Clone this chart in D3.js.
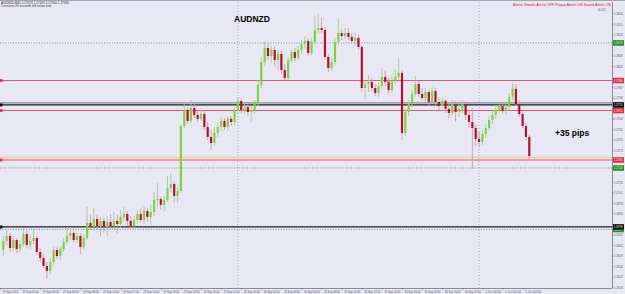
<!DOCTYPE html>
<html>
<head>
<meta charset="utf-8">
<script src="https://cdn.jsdelivr.net/npm/d3@7"></script>
<style>
  html, body { margin: 0; padding: 0; background: #e8e8f5; }
  svg { display: block; font-family: "Liberation Sans", Arial, sans-serif; }
</style>
</head>
<body>
<div id="chart"></div>
<script>
const symbol = "AUDNZD";
const period = "M30";

// OHLC per bar, first bar is bar 1
const firstBar = 1;
const candles = [
  [1.26625, 1.26730, 1.26580, 1.26693], [1.26693, 1.26775, 1.26663, 1.26730],
  [1.26730, 1.26753, 1.26610, 1.26640], [1.26640, 1.26730, 1.26618, 1.26700],
  [1.26700, 1.26715, 1.26603, 1.26633], [1.26633, 1.26700, 1.26610, 1.26670],
  [1.26670, 1.26790, 1.26648, 1.26745], [1.26745, 1.26768, 1.26640, 1.26663],
  [1.26663, 1.26745, 1.26633, 1.26693], [1.26693, 1.26783, 1.26670, 1.26715],
  [1.26715, 1.26730, 1.26588, 1.26610], [1.26610, 1.26640, 1.26535, 1.26565],
  [1.26565, 1.26595, 1.26490, 1.26505], [1.26505, 1.26535, 1.26408, 1.26468],
  [1.26468, 1.26565, 1.26445, 1.26535], [1.26535, 1.26648, 1.26505, 1.26625],
  [1.26625, 1.26648, 1.26558, 1.26580], [1.26580, 1.26655, 1.26550, 1.26633],
  [1.26633, 1.26715, 1.26610, 1.26685], [1.26685, 1.26798, 1.26663, 1.26730],
  [1.26730, 1.26798, 1.26700, 1.26753], [1.26753, 1.26775, 1.26678, 1.26700],
  [1.26700, 1.26753, 1.26678, 1.26730], [1.26730, 1.26753, 1.26595, 1.26648],
  [1.26648, 1.26745, 1.26625, 1.26715], [1.26715, 1.26948, 1.26700, 1.26828],
  [1.26828, 1.26888, 1.26775, 1.26798], [1.26798, 1.26940, 1.26768, 1.26858],
  [1.26858, 1.26888, 1.26775, 1.26805], [1.26805, 1.26873, 1.26730, 1.26843],
  [1.26843, 1.26865, 1.26753, 1.26798], [1.26798, 1.26880, 1.26730, 1.26835],
  [1.26835, 1.26895, 1.26783, 1.26805], [1.26805, 1.26910, 1.26783, 1.26843],
  [1.26843, 1.26888, 1.26753, 1.26820], [1.26820, 1.26925, 1.26790, 1.26873],
  [1.26873, 1.26948, 1.26835, 1.26895], [1.26895, 1.26918, 1.26805, 1.26843],
  [1.26843, 1.26880, 1.26775, 1.26805], [1.26805, 1.26880, 1.26783, 1.26850],
  [1.26850, 1.26925, 1.26820, 1.26895], [1.26895, 1.26933, 1.26828, 1.26850],
  [1.26850, 1.26955, 1.26820, 1.26918], [1.26918, 1.26940, 1.26835, 1.26873],
  [1.26873, 1.26963, 1.26813, 1.26910], [1.26910, 1.27060, 1.26880, 1.27000],
  [1.27000, 1.27128, 1.26948, 1.27008], [1.27008, 1.27023, 1.26925, 1.26963],
  [1.26963, 1.27030, 1.26918, 1.27000], [1.27000, 1.27180, 1.26985, 1.27090],
  [1.27090, 1.27188, 1.27060, 1.27120], [1.27120, 1.27143, 1.26978, 1.27030],
  [1.27030, 1.27090, 1.26978, 1.27068], [1.27068, 1.27570, 1.27053, 1.27555],
  [1.27555, 1.27728, 1.27540, 1.27675], [1.27675, 1.27698, 1.27570, 1.27593],
  [1.27593, 1.27750, 1.27578, 1.27690], [1.27690, 1.27720, 1.27615, 1.27638],
  [1.27638, 1.27668, 1.27585, 1.27608], [1.27608, 1.27675, 1.27593, 1.27645],
  [1.27645, 1.27668, 1.27525, 1.27548], [1.27548, 1.27585, 1.27450, 1.27473],
  [1.27473, 1.27525, 1.27375, 1.27428], [1.27428, 1.27548, 1.27405, 1.27503],
  [1.27503, 1.27585, 1.27473, 1.27548], [1.27548, 1.27623, 1.27518, 1.27593],
  [1.27593, 1.27615, 1.27525, 1.27548], [1.27548, 1.27630, 1.27518, 1.27608],
  [1.27608, 1.27630, 1.27555, 1.27585], [1.27585, 1.27698, 1.27563, 1.27668],
  [1.27668, 1.27773, 1.27645, 1.27743], [1.27743, 1.27765, 1.27653, 1.27675],
  [1.27675, 1.27720, 1.27645, 1.27698], [1.27698, 1.27720, 1.27630, 1.27660],
  [1.27660, 1.27705, 1.27585, 1.27675], [1.27675, 1.27750, 1.27645, 1.27728],
  [1.27728, 1.27900, 1.27705, 1.27863], [1.27863, 1.28065, 1.27840, 1.28035],
  [1.28035, 1.28185, 1.28005, 1.28140], [1.28140, 1.28170, 1.28050, 1.28080],
  [1.28080, 1.28155, 1.28035, 1.28125], [1.28125, 1.28148, 1.28005, 1.28050],
  [1.28050, 1.28125, 1.27975, 1.28095], [1.28095, 1.28125, 1.27945, 1.27975],
  [1.27975, 1.28020, 1.27893, 1.27915], [1.27915, 1.28073, 1.27900, 1.28050],
  [1.28050, 1.28133, 1.28028, 1.28110], [1.28110, 1.28140, 1.28035, 1.28065],
  [1.28065, 1.28155, 1.28050, 1.28125], [1.28125, 1.28200, 1.28103, 1.28170],
  [1.28170, 1.28230, 1.28133, 1.28193], [1.28193, 1.28215, 1.28080, 1.28103],
  [1.28103, 1.28215, 1.28088, 1.28185], [1.28185, 1.28380, 1.28163, 1.28275],
  [1.28275, 1.28395, 1.28253, 1.28290], [1.28290, 1.28365, 1.28253, 1.28275],
  [1.28275, 1.28298, 1.28058, 1.28073], [1.28073, 1.28095, 1.27960, 1.27990],
  [1.27990, 1.28065, 1.27968, 1.28035], [1.28035, 1.28215, 1.28013, 1.28185],
  [1.28185, 1.28358, 1.28163, 1.28253], [1.28253, 1.28283, 1.28200, 1.28230],
  [1.28230, 1.28290, 1.28208, 1.28253], [1.28253, 1.28290, 1.28200, 1.28223],
  [1.28223, 1.28253, 1.28170, 1.28193], [1.28193, 1.28253, 1.28155, 1.28215],
  [1.28215, 1.28238, 1.28125, 1.28148], [1.28148, 1.28163, 1.27810, 1.27840],
  [1.27840, 1.27900, 1.27750, 1.27870], [1.27870, 1.27938, 1.27810, 1.27885],
  [1.27885, 1.27915, 1.27810, 1.27840], [1.27840, 1.27870, 1.27780, 1.27803],
  [1.27803, 1.27885, 1.27773, 1.27855], [1.27855, 1.27990, 1.27833, 1.27923],
  [1.27923, 1.27968, 1.27855, 1.27885], [1.27885, 1.27915, 1.27795, 1.27825],
  [1.27825, 1.27930, 1.27803, 1.27900], [1.27900, 1.27975, 1.27870, 1.27923],
  [1.27923, 1.28065, 1.27900, 1.27953], [1.27953, 1.27975, 1.27450, 1.27503],
  [1.27503, 1.27690, 1.27480, 1.27660], [1.27660, 1.27750, 1.27630, 1.27720],
  [1.27720, 1.27825, 1.27698, 1.27795], [1.27795, 1.27930, 1.27773, 1.27870],
  [1.27870, 1.27893, 1.27773, 1.27795], [1.27795, 1.27840, 1.27743, 1.27765],
  [1.27765, 1.27840, 1.27720, 1.27810], [1.27810, 1.27825, 1.27705, 1.27735],
  [1.27735, 1.27848, 1.27720, 1.27818], [1.27818, 1.27840, 1.27713, 1.27735],
  [1.27735, 1.27773, 1.27675, 1.27705], [1.27705, 1.27765, 1.27690, 1.27743],
  [1.27743, 1.27758, 1.27653, 1.27683], [1.27683, 1.27720, 1.27615, 1.27653],
  [1.27653, 1.27750, 1.27630, 1.27720], [1.27720, 1.27743, 1.27585, 1.27660],
  [1.27660, 1.27720, 1.27623, 1.27683], [1.27683, 1.27750, 1.27653, 1.27720],
  [1.27720, 1.27743, 1.27600, 1.27638], [1.27638, 1.27675, 1.27540, 1.27585],
  [1.27585, 1.27690, 1.27233, 1.27540], [1.27540, 1.27570, 1.27405, 1.27458],
  [1.27458, 1.27510, 1.27398, 1.27435], [1.27435, 1.27525, 1.27413, 1.27495],
  [1.27495, 1.27570, 1.27465, 1.27540], [1.27540, 1.27630, 1.27518, 1.27600],
  [1.27600, 1.27668, 1.27570, 1.27638], [1.27638, 1.27713, 1.27608, 1.27675],
  [1.27675, 1.27735, 1.27653, 1.27705], [1.27705, 1.27728, 1.27645, 1.27668],
  [1.27668, 1.27728, 1.27638, 1.27698], [1.27698, 1.27803, 1.27683, 1.27773],
  [1.27773, 1.27878, 1.27750, 1.27833], [1.27833, 1.27870, 1.27705, 1.27720],
  [1.27720, 1.27750, 1.27623, 1.27645], [1.27645, 1.27668, 1.27540, 1.27555],
  [1.27555, 1.27578, 1.27450, 1.27473], [1.27473, 1.27495, 1.27300, 1.27330],
];

const priceTicks = [
  1.28400, 1.28321, 1.28242, 1.28163, 1.28084, 1.28005, 1.27926, 1.27847, 1.27768,
  1.27689, 1.27610, 1.27531, 1.27452, 1.27373, 1.27294, 1.27215, 1.27136, 1.27057,
  1.26978, 1.26899, 1.26820, 1.26741, 1.26662, 1.26583, 1.26504, 1.26425, 1.26346,
];

const timeLabels = [
  "29 Sep 2014", "29 Sep 02:00", "29 Sep 04:00", "29 Sep 06:00", "29 Sep 08:00",
  "29 Sep 10:00", "29 Sep 12:00", "29 Sep 14:00", "29 Sep 16:00", "29 Sep 18:00",
  "29 Sep 20:00", "29 Sep 22:00", "30 Sep 00:00", "30 Sep 02:00", "30 Sep 04:00",
  "30 Sep 06:00", "30 Sep 08:00", "30 Sep 10:00", "30 Sep 12:00", "30 Sep 14:00",
  "30 Sep 16:00", "30 Sep 18:00", "30 Sep 20:00", "30 Sep 22:00", "1 Oct 00:00",
  "1 Oct 02:00", "1 Oct 04:00",
];
const barsPerLabel = 6;
const daySeparatorBars = [71, 143];

// horizontal line objects
const redLevels = [1.27896, 1.27671, 1.27300];
const dottedLevels = [1.28178, 1.27240, 1.26779];
const blackLevels = [1.27713, 1.26798];
const grayLevels = [1.27728];
const beigeLevels = [1.27319];

const width = 625, height = 294;
const plot = { left: 0, right: 612, top: 2, bottom: 288 };

const bullBody = "#7ed43c", bearBody = "#b3112d";
const bullWick = "#a2cc90", bearWick = "#cf9aa6";

const svg = d3.select("#chart").append("svg")
  .attr("width", width).attr("height", height)
  .attr("viewBox", `0 0 ${width} ${height}`);

svg.append("rect").attr("width", width).attr("height", height).attr("fill", "#e8e8f5");
svg.append("rect").attr("width", width).attr("height", 1).attr("fill", "#a4a4b4");

const x = d3.scaleLinear().domain([0, 1]).range([0, 3.35]);
const y = d3.scaleLinear().domain([1.28500, 1.26340]).range([0, plot.bottom]);

svg.append("defs").append("clipPath").attr("id", "plotclip")
  .append("rect").attr("x", plot.left).attr("y", plot.top)
  .attr("width", plot.right - plot.left).attr("height", plot.bottom - plot.top);

const chart = svg.append("g").attr("clip-path", "url(#plotclip)");

// period separators
chart.selectAll("line.sep").data(daySeparatorBars).join("line")
  .attr("class", "sep")
  .attr("x1", d => x(d)).attr("x2", d => x(d))
  .attr("y1", plot.top).attr("y2", plot.bottom)
  .attr("stroke", "#9a9aaa").attr("stroke-width", 0.8)
  .attr("stroke-dasharray", "1,2");

function hLines(levels, color, w, dash) {
  chart.append("g").selectAll("line").data(levels).join("line")
    .attr("x1", plot.left).attr("x2", plot.right)
    .attr("y1", d => y(d)).attr("y2", d => y(d))
    .attr("stroke", color).attr("stroke-width", w)
    .attr("stroke-dasharray", dash);
}
hLines(beigeLevels, "#eed8b0", 2.2, null);
hLines(dottedLevels, "#7c7c88", 0.9, "1,1.6");
hLines(redLevels, "#e0566a", 1.1, null);
hLines(grayLevels, "#8a8a90", 1.2, null);
hLines(blackLevels, "#1a1a1a", 1.3, null);

// small anchor squares at the left edge
chart.append("g").selectAll("rect").data(redLevels.map(p => ({ p, c: "#d83a4e" }))
    .concat(blackLevels.map(p => ({ p, c: "#111" }))))
  .join("rect")
  .attr("x", plot.left).attr("y", d => y(d.p) - 1.5)
  .attr("width", 2.5).attr("height", 3).attr("fill", d => d.c);

// candles
const bars = candles.map((c, k) => ({ i: firstBar + k, o: c[0], h: c[1], l: c[2], c: c[3] }));
chart.append("g").selectAll("line").data(bars).join("line")
  .attr("x1", d => x(d.i)).attr("x2", d => x(d.i))
  .attr("y1", d => y(d.h)).attr("y2", d => y(d.l))
  .attr("stroke", d => d.c >= d.o ? bullWick : bearWick)
  .attr("stroke-width", 0.9);
chart.append("g").selectAll("rect").data(bars).join("rect")
  .attr("x", d => x(d.i) - 1.1).attr("width", 2.2)
  .attr("y", d => y(Math.max(d.o, d.c)))
  .attr("height", d => Math.max(1, Math.abs(y(d.o) - y(d.c))))
  .attr("fill", d => d.c >= d.o ? bullBody : bearBody);

// price axis; ticks hidden under an object's price tag are left out
const tagLevels = dottedLevels.concat(redLevels, blackLevels);
const freeTicks = priceTicks.filter(p => tagLevels.every(t => Math.abs(y(t) - y(p)) > 5));
const yAxis = svg.append("g")
  .attr("transform", `translate(${plot.right},0)`)
  .call(d3.axisRight(y).tickValues(freeTicks).tickFormat(d3.format(".5f"))
    .tickSize(1.5).tickSizeOuter(0).tickPadding(0.8));
yAxis.select(".domain").attr("stroke", "#74747e").attr("stroke-width", 0.8)
  .attr("d", `M0.5,${plot.top}V${plot.bottom}`);
yAxis.selectAll(".tick line").attr("stroke", "#74747e");
yAxis.selectAll(".tick text")
  .attr("fill", "#55555f").style("font-size", "3.8px")
  .attr("textLength", 8.5).attr("lengthAdjust", "spacingAndGlyphs");

// time axis
const labelBars = timeLabels.map((_, k) => k * barsPerLabel);
const xAxis = svg.append("g")
  .attr("transform", `translate(0,${plot.bottom})`)
  .call(d3.axisBottom(x).tickValues(labelBars).tickFormat((d, k) => timeLabels[k])
    .tickSize(1.5).tickSizeOuter(0).tickPadding(0.5));
xAxis.select(".domain").attr("stroke", "#74747e").attr("stroke-width", 0.8)
  .attr("d", `M${plot.left},0.5H${plot.right}`);
xAxis.selectAll(".tick line").attr("stroke", "#74747e");
xAxis.selectAll(".tick text")
  .attr("text-anchor", "start").attr("x", 2)
  .attr("fill", "#55555f").style("font-size", "3.8px")
  .attr("textLength", 16).attr("lengthAdjust", "spacingAndGlyphs");

// price tags of the line objects
function levelTags(levels, fill, textFill) {
  const g = svg.append("g").selectAll("g").data(levels).join("g")
    .attr("transform", d => `translate(${plot.right + 1},${y(d)})`);
  g.append("rect").attr("x", 0).attr("y", -2.8).attr("width", 11).attr("height", 5.6)
    .attr("fill", fill);
  g.append("text").attr("x", 1).attr("y", 1.4)
    .attr("fill", textFill).style("font-size", "3.8px")
    .attr("textLength", 8.5).attr("lengthAdjust", "spacingAndGlyphs")
    .text(d => d3.format(".5f")(d));
}
levelTags(dottedLevels, "#2f8f2f", "#d8f0d8");
levelTags(redLevels, "#d8324a", "#ffe8ea");
levelTags(blackLevels, "#111111", "#e8e8e8");

// header texts
const last = candles[candles.length - 1];
svg.append("text").attr("x", 1).attr("y", 3.9)
  .attr("fill", "#333").style("font-size", "3.6px")
  .attr("textLength", 68).attr("lengthAdjust", "spacingAndGlyphs")
  .text(`${symbol},${period}  ${last.map(d3.format(".5f")).join(" ")}`);
svg.append("text").attr("x", 1).attr("y", 7.4)
  .attr("fill", "#333").style("font-size", "3.6px")
  .attr("textLength", 50).attr("lengthAdjust", "spacingAndGlyphs")
  .text("5 minutes 20 seconds left to bar end");

svg.append("text").attr("x", 513).attr("y", 5.5)
  .attr("fill", "#d4202c").style("font-size", "4px")
  .attr("textLength", 98).attr("lengthAdjust", "spacingAndGlyphs")
  .text("Alerts:   Emails Alerts OFF    Popup Alerts ON    Sound Alerts ON");
svg.append("text").attr("x", 598).attr("y", 10.5)
  .attr("fill", "#55555f").style("font-size", "4px")
  .text("0:20");

svg.append("text").attr("x", 252).attr("y", 21.5)
  .attr("text-anchor", "middle").attr("fill", "#000")
  .style("font-size", "8.5px").style("font-weight", "bold")
  .text(symbol);

svg.append("text").attr("x", 555).attr("y", 136)
  .attr("fill", "#000")
  .style("font-size", "8.5px").style("font-weight", "bold")
  .text("+35 pips");
</script>
</body>
</html>
